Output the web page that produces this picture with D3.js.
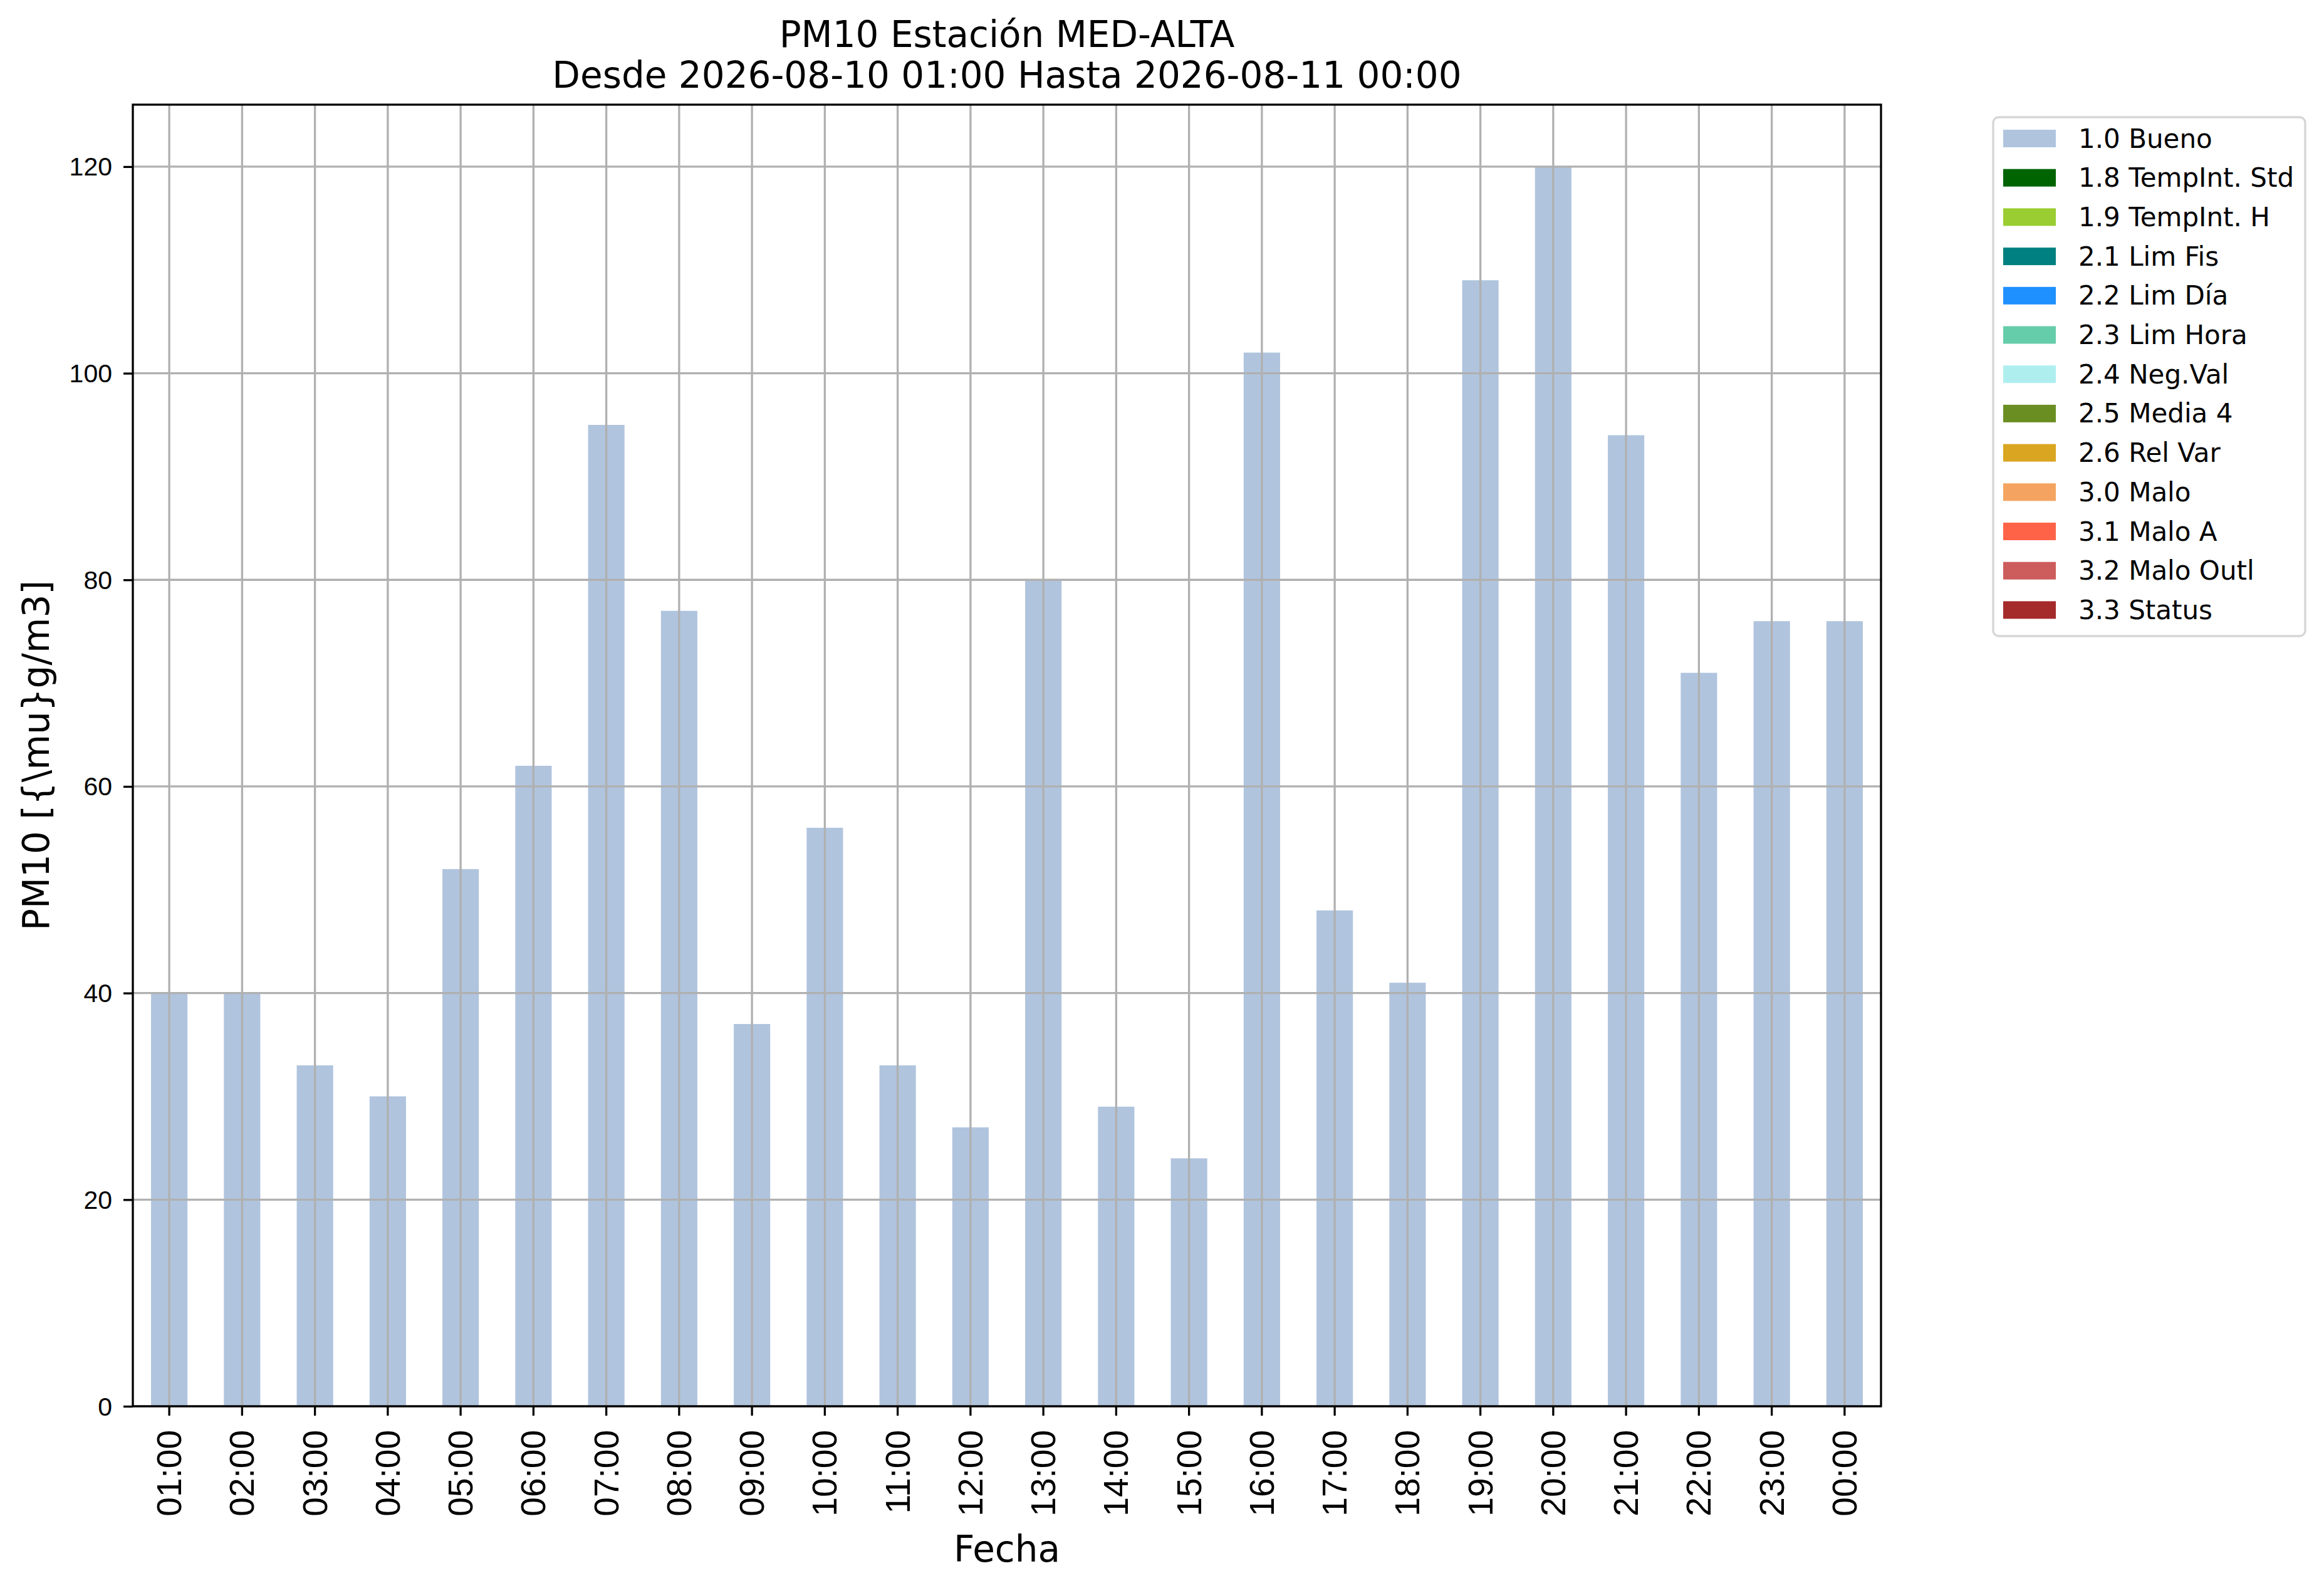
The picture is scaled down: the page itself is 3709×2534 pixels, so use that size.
<!DOCTYPE html>
<html>
<head>
<meta charset="utf-8">
<script src="https://cdn.jsdelivr.net/npm/d3@7"></script>
<style>
  body { margin: 0; background: #fff; }
  svg { display: block; font-family: "DejaVu Sans", sans-serif; }
</style>
</head>
<body>
<div id="chart"></div>
<script>
// hourly PM10 values, one bar per hour (all flagged 1.0 Bueno)
const HOURS = ["01:00","02:00","03:00","04:00","05:00","06:00","07:00","08:00",
               "09:00","10:00","11:00","12:00","13:00","14:00","15:00","16:00",
               "17:00","18:00","19:00","20:00","21:00","22:00","23:00","00:00"];
const PM10 = [40, 40, 33, 30, 52, 62, 95, 77, 37, 56, 33, 27,
              80, 29, 24, 102, 48, 41, 109, 120, 94, 71, 76, 76];
const Y_TICKS = [0, 20, 40, 60, 80, 100, 120];

// quality flags shown in the legend
const FLAGS = ["1.0 Bueno","1.8 TempInt. Std","1.9 TempInt. H","2.1 Lim Fis","2.2 Lim Día",
               "2.3 Lim Hora","2.4 Neg.Val","2.5 Media 4","2.6 Rel Var","3.0 Malo",
               "3.1 Malo A","3.2 Malo Outl","3.3 Status"];
const FLAG_COLORS = ["#b0c4de","#006400","#9acd32","#008080","#1e90ff","#66cdaa","#afeeee",
                     "#6b8e23","#daa520","#f4a460","#ff6347","#cd5c5c","#a52a2a"];

const W = 3709, H = 2534;
const m = { left: 212, right: 3002, top: 167, bottom: 2244 };
const LW = 3.3; // line width for spines, ticks, grid

const svg = d3.select("#chart").append("svg")
    .attr("width", W).attr("height", H);

const x = d3.scaleBand().domain(HOURS).range([m.left, m.right])
    .paddingInner(0.5).paddingOuter(0.25);
const y = d3.scaleLinear().domain([0, 126]).range([m.bottom, m.top]);

// bars
svg.append("g").selectAll("rect").data(PM10).join("rect")
    .attr("x", (d, i) => x(HOURS[i]))
    .attr("width", x.bandwidth())
    .attr("y", d => y(d))
    .attr("height", d => y(0) - y(d))
    .attr("fill", FLAG_COLORS[0]);

// grid sits on top of the bars, like the original
const grid = svg.append("g").attr("stroke", "#b0b0b0").attr("stroke-width", LW);
grid.selectAll(".gx").data(HOURS).join("line")
    .attr("x1", d => x(d) + x.bandwidth() / 2).attr("x2", d => x(d) + x.bandwidth() / 2)
    .attr("y1", m.top).attr("y2", m.bottom);
grid.selectAll(".gy").data(Y_TICKS).join("line")
    .attr("x1", m.left).attr("x2", m.right)
    .attr("y1", d => y(d)).attr("y2", d => y(d));

// axes
const xAxis = svg.append("g").attr("transform", `translate(0,${m.bottom})`)
    .call(d3.axisBottom(x).tickSize(15).tickPadding(0));
xAxis.select(".domain").remove();
xAxis.selectAll(".tick line").attr("stroke", "#000").attr("stroke-width", LW);
xAxis.selectAll(".tick text")
    .attr("font-size", 55).attr("fill", "#000")
    .attr("text-anchor", "end").attr("dominant-baseline", "central")
    .attr("transform", "translate(0,38) rotate(-90)")
    .attr("x", 0).attr("y", 0).attr("dy", null);

const yAxis = svg.append("g").attr("transform", `translate(${m.left},0)`)
    .call(d3.axisLeft(y).tickValues(Y_TICKS).tickSize(15).tickPadding(18));
yAxis.select(".domain").remove();
yAxis.selectAll(".tick line").attr("stroke", "#000").attr("stroke-width", LW);
yAxis.selectAll(".tick text").attr("font-size", 41).attr("fill", "#000")
    .attr("dy", null).attr("dominant-baseline", "central");

// frame
svg.append("rect")
    .attr("x", m.left).attr("y", m.top)
    .attr("width", m.right - m.left).attr("height", m.bottom - m.top)
    .attr("fill", "none").attr("stroke", "#000").attr("stroke-width", LW);

// titles and axis labels
const cx = (m.left + m.right) / 2;
svg.append("text").attr("x", cx).attr("y", 75).attr("text-anchor", "middle")
    .attr("font-size", 58).text("PM10 Estación MED-ALTA");
svg.append("text").attr("x", cx).attr("y", 140).attr("text-anchor", "middle")
    .attr("font-size", 58).text("Desde 2026-08-10 01:00 Hasta 2026-08-11 00:00");
svg.append("text").attr("x", cx).attr("y", 2492).attr("text-anchor", "middle")
    .attr("font-size", 58).text("Fecha");
svg.append("text")
    .attr("transform", `translate(78,${(m.top + m.bottom) / 2}) rotate(-90)`)
    .attr("text-anchor", "middle").attr("font-size", 58)
    .text("PM10 [{\\mu}g/m3]");

// legend
const lg = svg.append("g");
lg.append("rect")
    .attr("x", 3181).attr("y", 187).attr("width", 498).attr("height", 828)
    .attr("rx", 9).attr("fill", "#fff")
    .attr("stroke", "#d6d6d6").attr("stroke-width", LW);
const rows = lg.selectAll(".row").data(FLAGS).join("g")
    .attr("transform", (d, i) => `translate(3197,${207 + i * 62.7})`);
rows.append("rect").attr("width", 84).attr("height", 28)
    .attr("fill", (d, i) => FLAG_COLORS[i]);
rows.append("text").attr("x", 120).attr("y", 14)
    .attr("dominant-baseline", "central").attr("font-size", 42)
    .text(d => d);
</script>
</body>
</html>
